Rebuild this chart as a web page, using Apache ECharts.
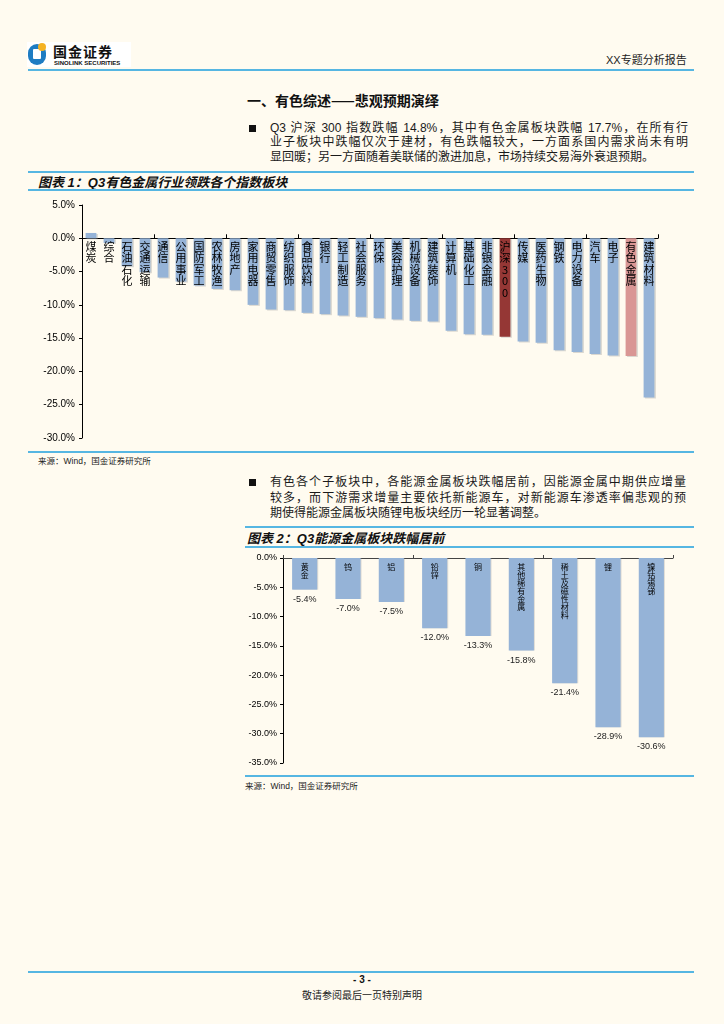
<!DOCTYPE html>
<html>
<head>
<meta charset="utf-8">
<script src="https://cdn.jsdelivr.net/npm/echarts@6/dist/echarts.min.js"></script>
<style>
  html,body{margin:0;padding:0;}
  body{width:724px;height:1024px;background:#FFFBF0;position:relative;overflow:hidden;
       font-family:"Liberation Sans","Noto Sans CJK SC",sans-serif;color:#111;}
  .abs{position:absolute;}
  .hline{position:absolute;height:2px;background:#56B6E2;}
  .thin{height:1.5px;}
  .para{position:absolute;font-size:12px;line-height:14.3px;color:#1a1a1a;}
  .para div{text-align:justify;text-align-last:justify;white-space:nowrap;}
  .para div.last{text-align-last:left;}
  .bullet{position:absolute;width:7px;height:7px;background:#111;}
  .ttl{position:absolute;font-size:13px;font-weight:bold;font-style:italic;color:#111;white-space:nowrap;}
  .src{position:absolute;font-size:8.5px;color:#222;white-space:nowrap;}
</style>
</head>
<body>
<!-- logo -->
<div class="abs" style="left:27px;top:42px;width:104px;height:25px;background:#fff;"></div>
<div class="abs" style="left:28px;top:44px;width:18px;height:21px;border-radius:9px;background:#1E7CC2;"></div>
<div class="abs" style="left:33px;top:49px;width:8px;height:10px;background:#fff;border-radius:1px;"></div>
<div class="abs" style="left:38px;top:43px;width:8px;height:8px;border-radius:4px;background:#F5B324;"></div>
<div class="abs" style="left:53px;top:42px;font-size:14px;font-weight:bold;letter-spacing:1px;font-family:'Noto Sans CJK SC';color:#111;line-height:18px;">国金证券</div>
<div class="abs" style="left:54px;top:60px;font-size:6px;font-weight:bold;color:#111;line-height:7px;white-space:nowrap;">SINOLINK SECURITIES</div>
<div class="abs" style="left:606px;top:51px;font-size:11px;color:#222;white-space:nowrap;">XX专题分析报告</div>
<div class="hline" style="left:28px;top:69px;width:666px;"></div>

<div class="abs" style="left:247px;top:90px;font-size:14px;font-weight:bold;white-space:nowrap;font-family:'Noto Sans CJK SC';">一、有色综述——悲观预期演绎</div>

<div class="bullet" style="left:249px;top:125px;"></div>
<div class="para" style="left:270px;top:121px;width:418px;">
  <div>Q3 沪深 300 指数跌幅 14.8%，其中有色金属板块跌幅 17.7%，在所有行</div>
  <div>业子板块中跌幅仅次于建材，有色跌幅较大，一方面系国内需求尚未有明</div>
  <div class="last">显回暖；另一方面随着美联储的激进加息，市场持续交易海外衰退预期。</div>
</div>

<div class="hline thin" style="left:28px;top:171px;width:666px;"></div>
<div class="ttl" style="left:38px;top:172px;">图表 1：Q3有色金属行业领跌各个指数板块</div>
<div class="hline thin" style="left:28px;top:189px;width:666px;"></div>

<div id="c1" class="abs" style="left:28px;top:192px;width:666px;height:258px;"></div>

<div class="hline thin" style="left:28px;top:451px;width:666px;"></div>
<div class="src" style="left:38px;top:454px;">来源：Wind，国金证券研究所</div>

<div class="bullet" style="left:249px;top:479px;"></div>
<div class="para" style="left:270px;top:475px;width:416px;line-height:15.5px;">
  <div>有色各个子板块中，各能源金属板块跌幅居前，因能源金属中期供应增量</div>
  <div>较多，而下游需求增量主要依托新能源车，对新能源车渗透率偏悲观的预</div>
  <div class="last">期使得能源金属板块随锂电板块经历一轮显著调整。</div>
</div>

<div class="hline thin" style="left:245px;top:526px;width:449px;"></div>
<div class="ttl" style="left:247px;top:528px;">图表 2：Q3能源金属板块跌幅居前</div>
<div class="hline thin" style="left:245px;top:546px;width:449px;"></div>

<div id="c2" class="abs" style="left:240px;top:548px;width:454px;height:226px;"></div>

<div class="hline thin" style="left:245px;top:775px;width:449px;"></div>
<div class="src" style="left:245px;top:779px;">来源：Wind，国金证券研究所</div>

<div class="hline" style="left:28px;top:971px;width:666px;"></div>
<div class="abs" style="left:0;top:974px;width:724px;text-align:center;font-size:10px;font-weight:bold;">- 3 -</div>
<div class="abs" style="left:0;top:987px;width:724px;text-align:center;font-size:10px;color:#222;">敬请参阅最后一页特别声明</div>

<script>
// ---- data: chart 1 ----
const industries = ['煤炭','综合','石油石化','交通运输','通信','公用事业','国防军工','农林牧渔','房地产','家用电器','商贸零售','纺织服饰','食品饮料','银行','轻工制造','社会服务','环保','美容护理','机械设备','建筑装饰','计算机','基础化工','非银金融','沪深300','传媒','医药生物','钢铁','电力设备','汽车','电子','有色金属','建筑材料'];
const industryChange = [0.8,-0.7,-4.2,-5.1,-5.9,-6.5,-7.1,-7.6,-7.8,-10.0,-10.7,-10.8,-11.2,-11.4,-11.6,-11.8,-12.0,-12.2,-12.4,-12.5,-13.9,-14.4,-14.5,-14.8,-15.5,-15.7,-16.8,-17.1,-17.4,-17.6,-17.7,-23.9];
const yTicks1 = {min:-30, max:5, interval:5};

// ---- data: chart 2 ----
const metals = ['黄金','钨','铝','铅锌','铜','其他稀有金属','稀土及磁性材料','锂','镍钴锡锑'];
const metalChange = [-5.4,-7.0,-7.5,-12.0,-13.3,-15.8,-21.4,-28.9,-30.6];
const yTicks2 = {min:-35, max:0, interval:5};

const BLUE = '#95B3D7', DARKRED = '#953735', PINK = '#D99694';
const FONT = '"Liberation Sans","Noto Sans CJK SC",sans-serif';
const CJK = '"Noto Sans CJK SC",sans-serif';
const vert = s => s.split('').join('\n');
const pct = v => v.toFixed(1) + '%';

// category names drawn at the zero line (anchored on the category axis at value 0)
function nameAnchors(cats, fontSize, lineHeight, dist) {
  return {
    type:'scatter', data:cats.map(c => [c, 0]), symbol:'rect', symbolSize:[1,1], silent:true,
    itemStyle:{color:'rgba(0,0,0,0)'}, z:5,
    label:{show:true, position:'bottom', distance:dist, fontSize:fontSize, lineHeight:lineHeight,
      color:'#000', opacity:1, fontFamily:CJK, align:'center', verticalAlign:'top',
      formatter:p => vert(p.value[0])},
    labelLayout:{hideOverlap:false}
  };
}

const c1 = echarts.init(document.getElementById('c1'), null, {renderer:'canvas'});
c1.setOption({
  animation:false,
  textStyle:{fontFamily:FONT},
  grid:{left:54, right:36, top:13, bottom:12},
  xAxis:{
    type:'category', data:industries,
    axisLine:{onZero:true, lineStyle:{color:'#000', width:1}},
    axisTick:{show:true, inside:true, length:4, alignWithLabel:false, lineStyle:{color:'#000'}},
    axisLabel:{show:false}
  },
  yAxis:{
    type:'value', min:yTicks1.min, max:yTicks1.max, interval:yTicks1.interval,
    splitLine:{show:false},
    axisLine:{show:true, lineStyle:{color:'#000', width:1}},
    axisTick:{show:true, length:3, lineStyle:{color:'#000'}},
    axisLabel:{fontSize:10, color:'#000', margin:7, formatter:pct}
  },
  series:[{
    type:'bar', data:industryChange, barWidth:'60%',
    itemStyle:{
      color: p => p.name === '沪深300' ? DARKRED : (p.name === '有色金属' ? PINK : BLUE),
      shadowColor:'rgba(150,150,150,0.35)', shadowOffsetX:1.5, shadowOffsetY:1
    }
  }, nameAnchors(industries, 11, 11.5, 2)]
});

const c2 = echarts.init(document.getElementById('c2'), null, {renderer:'canvas'});
c2.setOption({
  animation:false,
  textStyle:{fontFamily:FONT},
  grid:{left:43, right:21, top:10, bottom:11},
  xAxis:{
    type:'category', data:metals,
    axisLine:{onZero:true, lineStyle:{color:'#444', width:1}},
    axisTick:{show:true, inside:true, length:3, lineStyle:{color:'#444'}},
    axisLabel:{show:false}
  },
  yAxis:{
    type:'value', min:yTicks2.min, max:yTicks2.max, interval:yTicks2.interval,
    splitLine:{show:false},
    axisLine:{show:true, lineStyle:{color:'#000', width:1}},
    axisTick:{show:true, length:3, lineStyle:{color:'#000'}},
    axisLabel:{fontSize:9, color:'#000', margin:6, formatter:pct}
  },
  series:[{
    type:'bar', data:metalChange, barWidth:'58%',
    itemStyle:{color:BLUE, shadowColor:'rgba(150,150,150,0.3)', shadowOffsetX:1, shadowOffsetY:0},
    label:{show:true, position:'bottom', distance:5, fontSize:9, color:'#222', formatter:p => pct(p.value)}
  }, nameAnchors(metals, 8, 8, 4)]
});
</script>
</body>
</html>
